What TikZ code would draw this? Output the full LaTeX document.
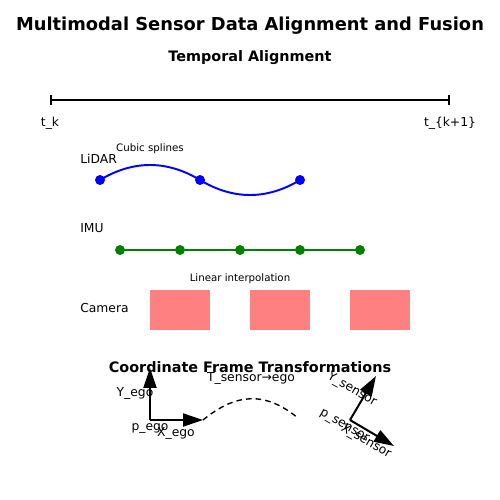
\documentclass[tikz,border=0pt]{standalone}
\usepackage{fontspec}
\setmainfont{DejaVu Sans}
\usetikzlibrary{positioning,arrows.meta}
\definecolor{camred}{HTML}{FF8080}
\definecolor{imugreen}{HTML}{008000}
\newcommand{\dotrad}{3.6pt}
\newcommand{\framewd}{0.6in}
\newcommand{\frameht}{0.4in}
\newcommand{\axwd}{1.45pt}
\newcommand{\textdrop}{-1.8pt}
\tikzstyle{heading}=[font=\bfseries\fontsize{10.4}{12}\selectfont,inner sep=0pt,yshift=\textdrop]
\tikzstyle{label}=[font=\fontsize{8.9}{10}\selectfont,inner sep=0pt,yshift=\textdrop]
\tikzstyle{note}=[font=\fontsize{7.4}{8}\selectfont,inner sep=0pt,yshift=\textdrop]
\tikzstyle{rowname}=[label,anchor=west]
\tikzstyle{timeaxis}=[line width=\axwd,{Bar[width=7.5pt]}-{Bar[width=7.5pt]}]
\tikzstyle{lidardot}=[circle,fill=blue,draw=none,inner sep=0pt,minimum size=2*\dotrad]
\tikzstyle{imudot}=[circle,fill=imugreen,draw=none,inner sep=0pt,minimum size=2*\dotrad]
\tikzstyle{spline}=[blue,line width=1.4pt]
\tikzstyle{imuline}=[imugreen,line width=1.4pt]
\tikzstyle{camframe}=[fill=camred,draw=none,shape=rectangle,inner sep=0pt,
                      minimum width=\framewd,minimum height=\frameht]
\tikzstyle{axisarrow}=[line width=\axwd,-{Triangle[length=14.4pt,width=9.4pt]}]
\tikzstyle{transform}=[line width=1pt,dash pattern=on 4pt off 3pt]
\begin{document}
\begin{tikzpicture}[x=0.01in,y=-0.01in]
\useasboundingbox (0,0) rectangle (500,500);

\node [heading, font=\bfseries\fontsize{12.9}{15}\selectfont] (title) at (250,23) {Multimodal Sensor Data Alignment and Fusion};
\node [heading] (temporal) at (250,55) {Temporal Alignment};

% time axis
\coordinate (tk) at (50,100);
\coordinate (tk1) at (450,100);
\draw [timeaxis] (tk) -- (tk1);
\node [label] (tklabel) at (50,121) {t\_k};
\node [label] (tk1label) at (450,121) {t\_\{k+1\}};

% lidar
\node [rowname] (lidar) at (80,156) {LiDAR};
\node [note] (cubic) at (150,146) {Cubic splines};
\foreach \x [count=\n] in {100,200,300}
  \coordinate (l\n) at (\x,180);
\draw [spline] (l1) .. controls +(33,-20) and +(-33,-20) .. (l2)
               .. controls +(33,20) and +(-33,20) .. (l3);
\foreach \n in {1,2,3}
  \node [lidardot] (ldot\n) at (l\n) {};

% imu
\node [rowname] (imu) at (80,226) {IMU};
\foreach \x [count=\n] in {120,180,240,300,360}
  \coordinate (i\n) at (\x,250);
\draw [imuline] (i1) -- (i5);
\foreach \n in {1,...,5}
  \node [imudot] (idot\n) at (i\n) {};
\node [note] (linear) at (240,276) {Linear interpolation};

% camera
\node [rowname] (camera) at (80,306) {Camera};
\foreach \x [count=\n] in {150,250,350}
  \node [camframe] (c\n) at (\x+30,310) {};

% frames
\node [heading] (coordtitle) at (250,365) {Coordinate Frame Transformations};
\coordinate (pego) at (150,420);
\draw [axisarrow] (pego) -- ++(0,-52) coordinate (yego);
\draw [axisarrow] (pego) -- ++(53,0) coordinate (xego);
\node [label] (yegolabel) at (135,391) {Y\_ego};
\node [label] (pegolabel) at (150,426) {p\_ego};
\node [label] (xegolabel) at (176,431) {X\_ego};

\coordinate (psens) at (350,420);
\coordinate (tend) at (298,418);
\draw [transform] (xego) .. controls +(33,-27) and +(-33,-27) .. (tend);
\node [label] (tlabel) at (251,376) {T\_sensor→ego};

\draw [axisarrow] (psens) -- ++(44,26) coordinate (xsens);
\draw [axisarrow] (psens) -- ++(26,-44) coordinate (ysens);
\node [label, rotate=-30] (ysenslabel) at (352,387) {Y\_sensor};
\node [label, rotate=-30] (psenslabel) at (344,424) {p\_sensor};
\node [label, rotate=-30] (xsenslabel) at (366,439) {X\_sensor};
\end{tikzpicture}
\end{document}
